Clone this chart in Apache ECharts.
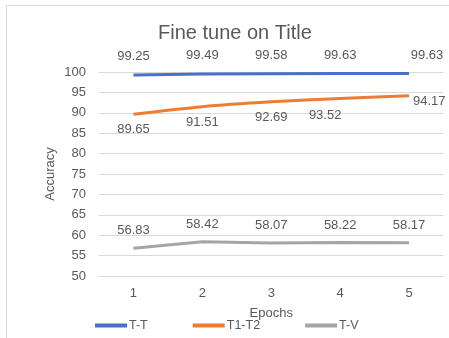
<!DOCTYPE html>
<html><head><meta charset="utf-8">
<script src="https://cdn.jsdelivr.net/npm/echarts@6/dist/echarts.min.js"></script>
<style>html,body{margin:0;padding:0;background:#fff}#c{width:449px;height:338px}</style>
</head><body><div id="c"></div>
<script>
const categories = ['1','2','3','4','5'];
const ttValues = [99.25, 99.49, 99.58, 99.63, 99.63];
const t1t2Values = [89.65, 91.51, 92.69, 93.52, 94.17];
const tvValues = [56.83, 58.42, 58.07, 58.22, 58.17];
const yTicks = [50, 55, 60, 65, 70, 75, 80, 85, 90, 95, 100];

const FONT = 'Liberation Sans';
const TXT = '#595959';
const chart = echarts.init(document.getElementById('c'));

function withLabels(values, special) {
  return values.map((v, i) => special[i] ? { value: v, label: special[i] } : v);
}

chart.setOption({
  animation: false,
  graphic: [{ type: 'rect', shape: { x: 6.5, y: 5.5, width: 460, height: 360 }, style: { fill: 'none', stroke: '#d9d9d9', lineWidth: 1 }, z: -1 }],
  title: { text: 'Fine tune on Title', left: 153, top: 18, textStyle: { fontFamily: FONT, fontSize: 20, fontWeight: 'normal', color: TXT } },
  legend: {
    left: 90, top: 314, icon: 'rect', itemWidth: 32, itemHeight: 4, itemGap: 45,
    textStyle: { fontFamily: FONT, fontSize: 12.5, color: TXT, padding: [0, 0, 0, -3] },
    data: ['T-T', 'T1-T2', 'T-V']
  },
  grid: { left: 99, right: 5.5, top: 72, bottom: 62 },
  xAxis: {
    type: 'category', data: categories, boundaryGap: true,
    name: 'Epochs', nameLocation: 'middle', nameGap: 31, nameMoveOverlap: false,
    nameTextStyle: { fontFamily: FONT, fontSize: 13, color: TXT },
    axisLine: { lineStyle: { color: '#d9d9d9' } }, axisTick: { show: false },
    axisLabel: { fontFamily: FONT, fontSize: 13, color: TXT, margin: 11 }
  },
  yAxis: {
    type: 'value', min: yTicks[0], max: yTicks[yTicks.length - 1], interval: 5,
    name: 'Accuracy', nameLocation: 'middle', nameGap: 42, nameMoveOverlap: false,
    nameTextStyle: { fontFamily: FONT, fontSize: 13, color: TXT },
    axisLine: { show: false }, axisTick: { show: false },
    splitLine: { lineStyle: { color: '#d9d9d9' } },
    axisLabel: { fontFamily: FONT, fontSize: 13, color: TXT, margin: 13 }
  },
  series: [
    {
      name: 'T-T', type: 'line', data: withLabels(ttValues, { 4: { offset: [18, 0] } }),
      symbol: 'circle', symbolSize: 0, showSymbol: true, lineStyle: { width: 3, color: '#4472C4' }, itemStyle: { color: '#4472C4' },
      label: { show: true, position: 'top', distance: 12, fontFamily: FONT, fontSize: 13, color: TXT }
    },
    {
      name: 'T1-T2', type: 'line', data: withLabels(t1t2Values, { 3: { offset: [-15, 1] }, 4: { position: 'right', distance: 4, offset: [0, 6] } }),
      symbol: 'circle', symbolSize: 0, showSymbol: true, smooth: 0.3, lineStyle: { width: 3, color: '#ED7D31' }, itemStyle: { color: '#ED7D31' },
      label: { show: true, position: 'bottom', distance: 9, fontFamily: FONT, fontSize: 13, color: TXT }
    },
    {
      name: 'T-V', type: 'line', data: tvValues,
      symbol: 'circle', symbolSize: 0, showSymbol: true, lineStyle: { width: 3, color: '#A5A5A5' }, itemStyle: { color: '#A5A5A5' },
      label: { show: true, position: 'top', distance: 11, fontFamily: FONT, fontSize: 13, color: TXT }
    }
  ]
});
</script></body></html>
